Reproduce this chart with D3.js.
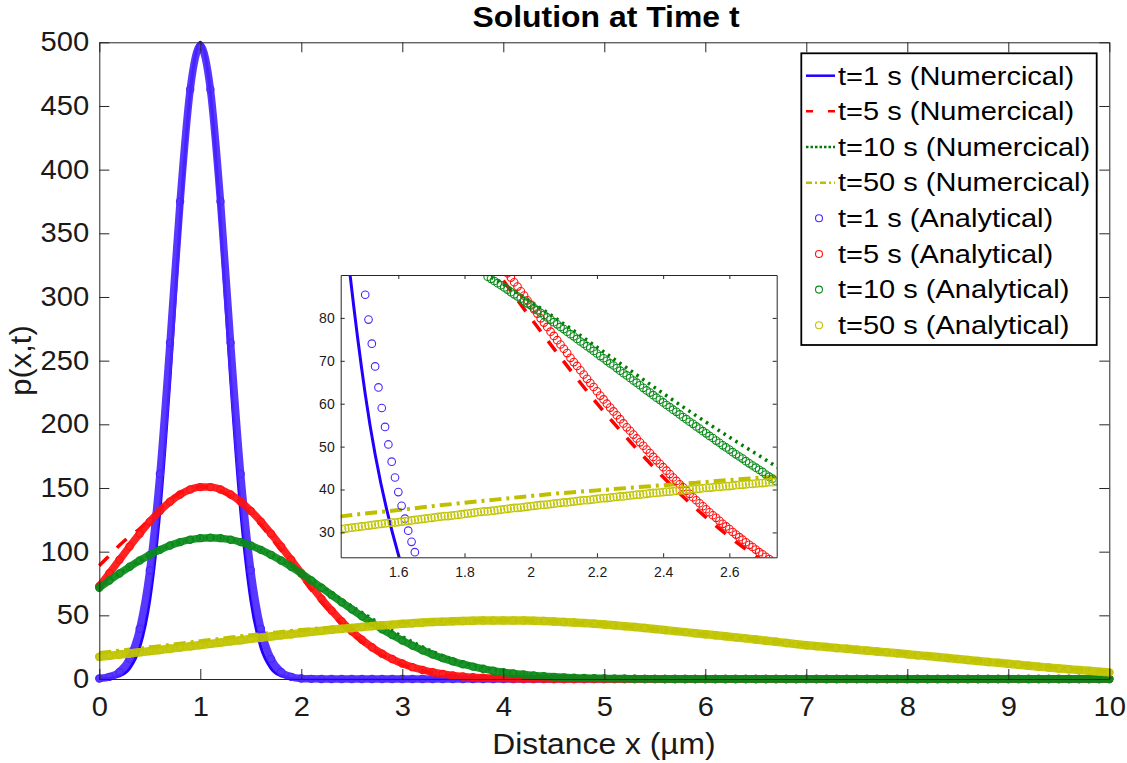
<!DOCTYPE html>
<html><head><meta charset="utf-8">
<script src="https://cdn.jsdelivr.net/npm/d3@7"></script>
<style>
body{margin:0;background:#fff;}
svg{display:block;font-family:"Liberation Sans",Arial,Helvetica,sans-serif;}
</style></head><body>
<svg id="chart" width="1127" height="763"></svg>
<script>
// ---------------- data ----------------
const xGrid = d3.range(101).map(i => +(i * 0.1).toFixed(1));
const xTicks = [0,1,2,3,4,5,6,7,8,9,10];
const yTicks = [0,50,100,150,200,250,300,350,400,450,500];
const insetXTicks = [1.6,1.8,2,2.2,2.4,2.6];
const insetYTicks = [30,40,50,60,70,80];
const titleText = "Solution at Time t";
const xLabelText = "Distance x (µm)";
const yLabelText = "p(x,t)";
const legendLabels = ["t=1 s (Numercical)","t=5 s (Numercical)","t=10 s (Numercical)","t=50 s (Numercical)",
  "t=1 s (Analytical)","t=5 s (Analytical)","t=10 s (Analytical)","t=50 s (Analytical)"];

// numerical solutions on xGrid
const numT1 = [0.1,0.6,2.4,8.4,24.9,62.3,132,236,358,460,
  500,460,358,236,132,62.3,24.9,8.4,2.4,0.6,
  0.1,0,0,0,0,0,0,0,0,0,
  0,0,0,0,0,0,0,0,0,0, 0,0,0,0,0,0,0,0,0,0, 0,0,0,0,0,0,0,0,0,0,
  0,0,0,0,0,0,0,0,0,0, 0,0,0,0,0,0,0,0,0,0, 0,0,0,0,0,0,0,0,0,0,
  0,0,0,0,0,0,0,0,0,0, 0];
const numT5 = [89,97,105,112,118,126,134.2,140.9,146.1,149.4,
  151,150.1,147.6,143.2,137.0,129.5,120.8,111.1,100.9,90.5,
  80.0,69.8,60.1,51.2,42.9,35.5,29.0,23.4,18.6,14.6,
  11.3,8.6,6.6,4.9,3.6,2.6,1.8,1.3,0.9,0.6,
  0.4,0.3,0.2,0.1,0,0,0,0,0,0,
  0,0,0,0,0,0,0,0,0,0, 0,0,0,0,0,0,0,0,0,0, 0,0,0,0,0,0,0,0,0,0,
  0,0,0,0,0,0,0,0,0,0, 0,0,0,0,0,0,0,0,0,0, 0];
const numT10 = [71.7,77.4,82.9,88.1,93.0,97.5,101.4,104.8,107.5,109.4,
  110.6,111.0,110.6,109.4,107.5,104.8,101.4,97.5,93.0,88.6,
  83.8,78.6,73.2,67.8,62.4,57.2,52.2,47.4,42.5,37.8,
  33.3,29.1,25.2,21.6,18.4,15.6,13.1,10.9,9.0,7.3,
  5.9,4.7,3.8,3.0,2.3,1.8,1.3,1.0,0.8,0.6,
  0.5,0.3,0.3,0.2,0.1,0.1,0,0,0,0,
  0,0,0,0,0,0,0,0,0,0, 0,0,0,0,0,0,0,0,0,0, 0,0,0,0,0,0,0,0,0,0,
  0,0,0,0,0,0,0,0,0,0, 0];
const numT50 = [20.4,21.3,22.2,23.1,24.0,24.9,25.8,26.8,27.7,28.7,
  29.7,30.6,31.6,32.6,33.5,34.4,35.2,36.1,36.9,37.7,
  38.5,39.2,39.8,40.4,41.0,41.6,42.2,42.8,43.4,43.8,
  44.3,44.7,45.1,45.4,45.6,45.8,46.0,46.1,46.2,46.2,
  46.2,46.1,46.0,45.8,45.5,45.2,44.8,44.4,43.9,43.4,
  42.8,42.2,41.5,40.8,40.0,39.2,38.4,37.6,36.8,36.0,
  35.2,34.4,33.5,32.7,31.9,31.0,30.1,29.2,28.3,27.4,
  26.9,26.2,25.5,24.8,24.1,23.4,22.7,22.0,21.3,20.6,
  19.9,19.1,18.4,17.6,16.9,16.1,15.3,14.6,13.8,13.1,
  12.3,11.6,10.8,10.1,9.4,8.7,8.1,7.4,6.8,6.2,
  5.6];

// analytical solutions on xGrid
const anaT1 = [0.4,1.7,5.5,15.8,39.4,85.4,161,264,375,463,
  497,463,375,264,161,85.4,39.4,15.8,5.5,1.7,
  0.4,0.1,0,0,0,0,0,0,0,0,
  0,0,0,0,0,0,0,0,0,0, 0,0,0,0,0,0,0,0,0,0, 0,0,0,0,0,0,0,0,0,0,
  0,0,0,0,0,0,0,0,0,0, 0,0,0,0,0,0,0,0,0,0, 0,0,0,0,0,0,0,0,0,0,
  0,0,0,0,0,0,0,0,0,0, 0];
const anaT5 = [72.8,83.1,93.6,104.0,114.1,123.6,132.0,139.2,144.9,148.8,
  150.7,150.7,148.8,144.9,139.2,132.0,123.6,114.1,104.0,93.6,
  83.1,72.8,62.9,53.7,45.2,37.5,30.8,24.9,19.9,15.7,
  12.2,9.3,7.1,5.3,3.9,2.8,2.0,1.4,1.0,0.7,
  0.5,0.3,0.2,0.1,0.1,0,0,0,0,0,
  0,0,0,0,0,0,0,0,0,0, 0,0,0,0,0,0,0,0,0,0, 0,0,0,0,0,0,0,0,0,0,
  0,0,0,0,0,0,0,0,0,0, 0,0,0,0,0,0,0,0,0,0, 0];
const anaT10 = [71.7,77.4,82.9,88.1,93.0,97.5,101.4,104.8,107.5,109.4,
  110.6,111.0,110.6,109.4,107.5,104.8,101.4,97.5,93.0,88.1,
  82.9,77.4,71.7,66.0,60.3,54.7,49.3,44.1,39.1,34.5,
  30.2,26.2,22.6,19.3,16.4,13.9,11.6,9.7,8.0,6.5,
  5.3,4.3,3.5,2.8,2.2,1.7,1.3,1.0,0.8,0.6,
  0.5,0.3,0.3,0.2,0.1,0.1,0,0,0,0,
  0,0,0,0,0,0,0,0,0,0, 0,0,0,0,0,0,0,0,0,0, 0,0,0,0,0,0,0,0,0,0,
  0,0,0,0,0,0,0,0,0,0, 0];
const anaT50 = [17.4,18.3,19.2,20.1,21.0,21.9,22.8,23.8,24.7,25.7,
  26.7,27.6,28.6,29.6,30.5,31.5,32.4,33.4,34.3,35.2,
  36.1,37.0,37.8,38.6,39.4,40.1,40.8,41.5,42.2,42.7,
  43.3,43.8,44.3,44.7,45.0,45.3,45.6,45.8,45.9,46.0,
  46.0,46.0,45.9,45.8,45.5,45.2,44.8,44.4,43.9,43.4,
  42.8,42.2,41.5,40.8,40.0,39.2,38.4,37.6,36.8,36.0,
  35.2,34.4,33.5,32.7,31.9,31.0,30.1,29.2,28.3,27.4,
  26.5,25.8,25.1,24.4,23.7,23.0,22.3,21.6,20.9,20.2,
  19.5,18.7,18.0,17.2,16.5,15.7,14.9,14.2,13.4,12.7,
  11.9,11.2,10.4,9.7,9.0,8.3,7.7,7.0,6.4,5.8,
  5.2];

// analytical solutions sampled every 0.01 inside the zoomed inset window
const insetX1 = d3.range(18).map(i => +(1.49 + 0.01 * i).toFixed(2));
const insetA1 = [91.6,85.4,79.6,74.0,68.7,63.8,59.0,54.6,50.5,46.5,42.8,39.4,36.2,33.2,30.4,27.8,25.4,23.1];
const insetX5 = d3.range(81).map(i => +(1.93 + 0.01 * i).toFixed(2));
const insetA5 = [90.4,89.4,88.3,87.3,86.2,85.2,84.1,83.1,82.0,81.0,
  79.9,78.9,77.9,76.8,75.8,74.8,73.8,72.8,71.8,70.7,
  69.7,68.8,67.8,66.8,65.8,64.8,63.9,62.9,61.9,61.0,
  60.0,59.1,58.2,57.3,56.4,55.4,54.5,53.7,52.8,51.9,
  51.0,50.2,49.3,48.5,47.6,46.8,46.0,45.2,44.4,43.6,
  42.8,42.0,41.2,40.5,39.7,39.0,38.2,37.5,36.8,36.1,
  35.4,34.7,34.0,33.4,32.7,32.0,31.4,30.8,30.1,29.5,
  28.9,28.3,27.7,27.1,26.6,26.0,25.4,24.9,24.3,23.8,
  23.3];
const insetX10 = d3.range(88).map(i => +(1.87 + 0.01 * i).toFixed(2));
const insetA10 = [89.6,89.1,88.6,88.1,87.6,87.1,86.6,86.0,85.5,85.0,
  84.5,83.9,83.4,82.9,82.3,81.8,81.2,80.7,80.1,79.6,
  79.0,78.5,77.9,77.4,76.8,76.2,75.7,75.1,74.5,74.0,
  73.4,72.9,72.3,71.7,71.1,70.6,70.0,69.4,68.9,68.3,
  67.7,67.1,66.6,66.0,65.4,64.9,64.3,63.7,63.1,62.6,
  62.0,61.4,60.9,60.3,59.7,59.2,58.6,58.1,57.5,56.9,
  56.4,55.8,55.3,54.7,54.2,53.6,53.1,52.5,52.0,51.4,
  50.9,50.3,49.8,49.3,48.7,48.2,47.7,47.2,46.6,46.1,
  45.6,45.1,44.6,44.1,43.5,43.0,42.5,42.0];
const insetX50 = d3.range(132).map(i => +(1.43 + 0.01 * i).toFixed(2));
const insetA50 = [30.8,30.9,31.0,31.1,31.2,31.3,31.4,31.5,31.6,31.7,
  31.8,31.9,32.0,32.1,32.2,32.3,32.3,32.4,32.5,32.6,
  32.7,32.8,32.9,33.0,33.1,33.2,33.3,33.4,33.5,33.6,
  33.7,33.8,33.8,33.9,34.0,34.1,34.2,34.3,34.4,34.5,
  34.6,34.7,34.8,34.9,34.9,35.0,35.1,35.2,35.3,35.4,
  35.5,35.6,35.7,35.7,35.8,35.9,36.0,36.1,36.2,36.3,
  36.4,36.4,36.5,36.6,36.7,36.8,36.9,37.0,37.0,37.1,
  37.2,37.3,37.4,37.5,37.5,37.6,37.7,37.8,37.9,38.0,
  38.0,38.1,38.2,38.3,38.4,38.4,38.5,38.6,38.7,38.8,
  38.8,38.9,39.0,39.1,39.2,39.2,39.3,39.4,39.5,39.5,
  39.6,39.7,39.8,39.8,39.9,40.0,40.1,40.1,40.2,40.3,
  40.4,40.4,40.5,40.6,40.6,40.7,40.8,40.8,40.9,41.0,
  41.1,41.1,41.2,41.3,41.3,41.4,41.5,41.5,41.6,41.7,
  41.7,41.8];

// ---------------- styles ----------------
const numStyles = [
  {color:"#2200ff", width:3,   dash:null,        legendDash:null},
  {color:"#ff0000", width:3.5, dash:"13,12",     legendDash:"7,15"},
  {color:"#007a00", width:3.5, dash:"2.5,4.5",   legendDash:"2.5,2"},
  {color:"#bfbf00", width:4,   dash:"12,5,3,5",  legendDash:"6,3,2,3"}
];
const anaStyles = [
  {color:"#4a26ff", band:7.5}, {color:"#ff1010", band:7.5}, {color:"#0a8a1a", band:7.5}, {color:"#c0c400", band:8.5}
];
const numData = [numT1, numT5, numT10, numT50];
const anaData = [anaT1, anaT5, anaT10, anaT50];
const insetData = [[insetX1, insetA1],[insetX5, insetA5],[insetX10, insetA10],[insetX50, insetA50]];
const axisColor = "#262626";

const pairs = arr => xGrid.map((x,i) => [x, arr[i]]).filter(d => d[1] !== undefined);

// ---------------- setup ----------------
const svg = d3.select("#chart");
svg.append("rect").attr("width",1127).attr("height",763).attr("fill","#fff");

const x = d3.scaleLinear([0,10],[99.3,1109.3]);
const y = d3.scaleLinear([0,500],[679,42.3]);

function stretch(sel, k){
  sel.each(function(){
    const L = this.getComputedTextLength();
    if (L > 0){ this.setAttribute("textLength", (L*k).toFixed(1)); this.setAttribute("lengthAdjust","spacingAndGlyphs"); }
  });
}
function styleAxis(g, fs){
  g.select(".domain").attr("stroke", axisColor).attr("stroke-width",1);
  g.selectAll(".tick line").attr("stroke", axisColor).attr("stroke-width",1);
  g.selectAll(".tick text").attr("fill","#1a1a1a").style("font-size", fs+"px").style("font-family",'"Liberation Sans",Arial,sans-serif');
}

// ---------------- main plot lines ----------------
const main = svg.append("g");
const lineMain = d3.line().x(d=>x(d[0])).y(d=>y(d[1])).curve(d3.curveMonotoneX);

numData.forEach((arr,k) => {
  const st = numStyles[k];
  main.append("path").datum(pairs(arr)).attr("d", lineMain)
    .attr("fill","none").attr("stroke", st.color).attr("stroke-width", st.width)
    .attr("stroke-dasharray", st.dash).attr("stroke-linejoin","round");
});
anaData.forEach((arr,k) => {
  const st = anaStyles[k];
  const g = main.append("g");
  g.append("path").datum(pairs(arr)).attr("d", lineMain)
    .attr("fill","none").attr("stroke", st.color).attr("stroke-width", st.band)
    .attr("stroke-linejoin","round").attr("stroke-linecap","round").attr("opacity",0.92);
  g.selectAll("circle").data(pairs(arr)).join("circle")
    .attr("cx", d=>x(d[0])).attr("cy", d=>y(d[1])).attr("r",3.6)
    .attr("fill","none").attr("stroke", st.color).attr("stroke-width",1.2);
});

// ---------------- main axes ----------------
const fsTick = 27;
const gx = svg.append("g").attr("transform","translate(0,679)")
  .call(d3.axisBottom(x).tickValues(xTicks).tickFormat(d3.format("d")).tickSizeInner(-10).tickSizeOuter(0).tickPadding(18));
styleAxis(gx, fsTick);
const gxt = svg.append("g").attr("transform","translate(0,42.3)")
  .call(d3.axisTop(x).tickValues(xTicks).tickFormat("").tickSizeInner(-10).tickSizeOuter(0));
styleAxis(gxt, fsTick);
const gy = svg.append("g").attr("transform","translate(99.3,0)")
  .call(d3.axisLeft(y).tickValues(yTicks).tickFormat(d3.format("d")).tickSizeInner(-10).tickSizeOuter(0).tickPadding(10));
styleAxis(gy, fsTick);
const gyr = svg.append("g").attr("transform","translate(1109.3,0)")
  .call(d3.axisRight(y).tickValues(yTicks).tickFormat("").tickSizeInner(-10).tickSizeOuter(0));
styleAxis(gyr, fsTick);
stretch(gx.selectAll(".tick text"), 1.08);
stretch(gy.selectAll(".tick text"), 1.08);

// labels & title
const tTitle = svg.append("text").attr("x",606).attr("y",27).attr("text-anchor","middle")
  .style("font-size","29px").style("font-weight","bold").attr("fill","#000").text(titleText);
stretch(tTitle, 1.1);
const tx = svg.append("text").attr("x",604).attr("y",754).attr("text-anchor","middle")
  .style("font-size","30px").attr("fill","#1a1a1a").text(xLabelText);
stretch(tx, 1.06);
const ty = svg.append("text").attr("transform","translate(31,360.5) rotate(-90)").attr("text-anchor","middle")
  .style("font-size","30px").attr("fill","#1a1a1a").text(yLabelText);
stretch(ty, 1.03);

// ---------------- inset ----------------
const xi = d3.scaleLinear([1.426,2.743],[340.7,776.7]);
const yi = d3.scaleLinear([24.2,90],[557.3,275]);
const inset = svg.append("g");
inset.append("rect").attr("x",340.7).attr("y",275).attr("width",436).attr("height",282.3).attr("fill","#fff");
svg.append("defs").append("clipPath").attr("id","insetClip")
  .append("rect").attr("x",340.7).attr("y",275).attr("width",436).attr("height",282.3);
const ip = inset.append("g").attr("clip-path","url(#insetClip)");
const lineInset = d3.line().x(d=>xi(d[0])).y(d=>yi(d[1])).curve(d3.curveMonotoneX);
numData.forEach((arr,k) => {
  const st = numStyles[k];
  ip.append("path").datum(pairs(arr).filter(d => d[0] >= 1.2 && d[0] <= 3.0)).attr("d", lineInset)
    .attr("fill","none").attr("stroke", st.color).attr("stroke-width", st.width)
    .attr("stroke-dasharray", st.dash);
});
insetData.forEach((pr,k) => {
  const st = anaStyles[k];
  const pts = pr[0].map((xv,i) => [xv, pr[1][i]]).filter(d => d[1] !== undefined);
  ip.append("g").selectAll("circle").data(pts).join("circle")
    .attr("cx", d=>xi(d[0])).attr("cy", d=>yi(d[1])).attr("r",3.8)
    .attr("fill","none").attr("stroke", st.color).attr("stroke-width",1.1);
});
const fsInset = 14;
const ixb = inset.append("g").attr("transform","translate(0,557.3)")
  .call(d3.axisBottom(xi).tickValues(insetXTicks).tickFormat(d => String(+d.toFixed(1))).tickSizeInner(-4).tickSizeOuter(0).tickPadding(10));
styleAxis(ixb, fsInset);
const ixt = inset.append("g").attr("transform","translate(0,275)")
  .call(d3.axisTop(xi).tickValues(insetXTicks).tickFormat("").tickSizeInner(-4).tickSizeOuter(0));
styleAxis(ixt, fsInset);
const iyl = inset.append("g").attr("transform","translate(340.7,0)")
  .call(d3.axisLeft(yi).tickValues(insetYTicks).tickFormat(d3.format("d")).tickSizeInner(-4).tickSizeOuter(0).tickPadding(6));
styleAxis(iyl, fsInset);
const iyr = inset.append("g").attr("transform","translate(776.7,0)")
  .call(d3.axisRight(yi).tickValues(insetYTicks).tickFormat("").tickSizeInner(-4).tickSizeOuter(0));
styleAxis(iyr, fsInset);

// ---------------- legend ----------------
const leg = svg.append("g");
leg.append("rect").attr("x",801.3).attr("y",53.3).attr("width",295.4).attr("height",291.7)
  .attr("fill","#fff").attr("stroke","#000").attr("stroke-width",1.8);
const rowY = i => 75.7 + i * 35.65;
legendLabels.forEach((lab,i) => {
  const cy = rowY(i);
  if (i < 4){
    const st = numStyles[i];
    leg.append("line").attr("x1",806).attr("x2",835).attr("y1",cy).attr("y2",cy)
      .attr("stroke", st.color).attr("stroke-width", Math.min(st.width,2.5)).attr("stroke-dasharray", st.legendDash);
  } else {
    leg.append("circle").attr("cx",819).attr("cy",cy).attr("r",3.5)
      .attr("fill","none").attr("stroke", anaStyles[i-4].color).attr("stroke-width",1.1);
  }
  const t = leg.append("text").attr("x",838).attr("y",cy+8.8).style("font-size","25px").attr("fill","#000").text(lab);
  stretch(t, 1.16);
});
</script>
</body></html>
